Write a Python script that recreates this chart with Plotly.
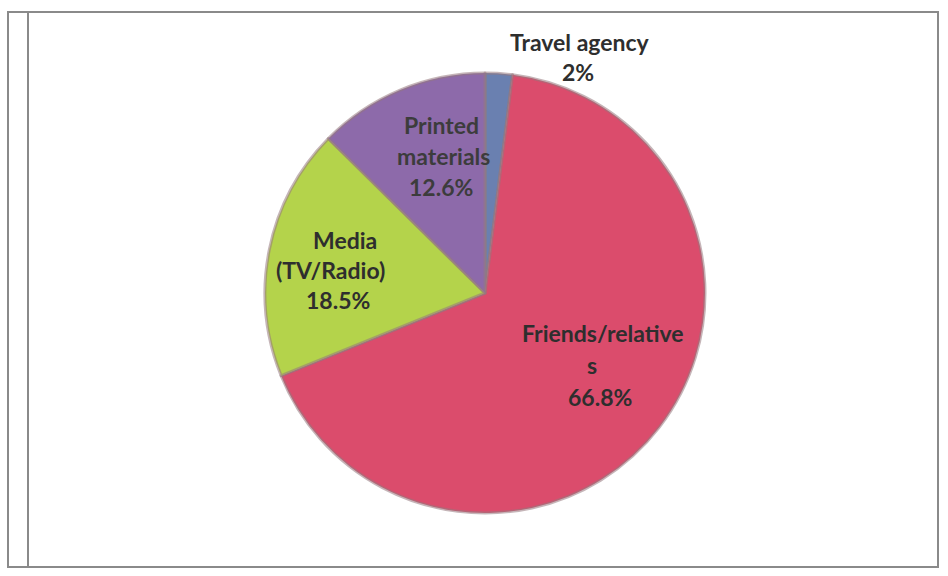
import plotly.graph_objects as go

# Sources of information (share of respondents, %)
labels = ["Travel agency", "Friends/relatives", "Media (TV/Radio)", "Printed materials"]
values = [2, 66.8, 18.5, 12.6]

# Label lines as they wrap inside / around each slice
label_lines = [
    ["Travel agency"],
    ["Friends/relative", "s"],
    ["Media", "(TV/Radio)"],
    ["Printed", "materials"],
]

colors = ["#6a80b0", "#db4c6c", "#b4d34b", "#8d6aaa"]

W, H = 948, 576

# Pie placement in pixels
cx, cy, r = 485, 293, 220

fig = go.Figure()
fig.add_trace(go.Pie(
    labels=labels,
    values=values,
    sort=False,
    direction="clockwise",
    rotation=0,
    marker=dict(colors=colors, line=dict(color="rgba(150,120,125,0.55)", width=3)),
    textinfo="none",
    hoverinfo="label+value",
    showlegend=False,
    domain=dict(x=[(cx - r) / W, (cx + r) / W], y=[(H - cy - r) / H, (H - cy + r) / H]),
))

# Pixel centres of each label block: (x, first line y, line step)
label_pos = [
    (580, 42, 30),
    (602, 333, 32),
    (338, 240, 30),
    (441, 125, 31),
]
text_colors = ["#2e2e2e", "#2e2e2e", "#2e2e2e", "#3c3c3c"]
x_shift = [[0, -2], [1, -10, -2], [7, -8, 0], [0, 2, 0]]

annotations = []
for i, (lines, val) in enumerate(zip(label_lines, values)):
    px, py, step = label_pos[i]
    all_lines = lines + [f"{val:g}%"]
    for j, t in enumerate(all_lines):
        dx = x_shift[i][j] if j < len(x_shift[i]) else 0
        annotations.append(dict(
            x=(px + dx) / W, y=1 - (py + j * step) / H,
            xref="paper", yref="paper", text=f"<b>{t}</b>", showarrow=False,
            font=dict(family="Lato, Open Sans, sans-serif", size=23, color=text_colors[i]),
            xanchor="center", yanchor="middle",
        ))

# Chart frame
shapes = [
    dict(type="rect", xref="paper", yref="paper",
         x0=8 / W, x1=938 / W, y0=1 - 567 / H, y1=1 - 12 / H,
         line=dict(color="#8a8a8a", width=2), fillcolor="rgba(0,0,0,0)", layer="below"),
    dict(type="line", xref="paper", yref="paper",
         x0=28 / W, x1=28 / W, y0=1 - 567 / H, y1=1 - 12 / H,
         line=dict(color="#8a8a8a", width=2)),
]

fig.update_layout(
    width=W, height=H,
    margin=dict(l=0, r=0, t=0, b=0),
    paper_bgcolor="white",
    plot_bgcolor="white",
    annotations=annotations,
    shapes=shapes,
)

fig.write_html("out.html")
